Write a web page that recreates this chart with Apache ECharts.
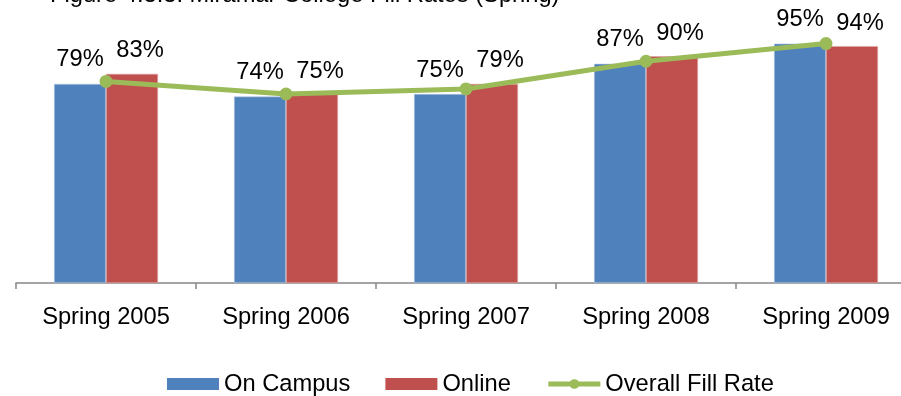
<!DOCTYPE html>
<html>
<head>
<meta charset="utf-8">
<script src="https://cdn.jsdelivr.net/npm/echarts@6/dist/echarts.min.js"></script>
<style>
  html, body { margin: 0; padding: 0; background: #fff; }
  #chart { width: 901px; height: 396px; }
</style>
</head>
<body>
<div id="chart"></div>
<script>
// Fill rates by spring term (percent)
const terms = ['Spring 2005', 'Spring 2006', 'Spring 2007', 'Spring 2008', 'Spring 2009'];
const onCampus = [79, 74, 75, 87, 95];
const online = [83, 75, 79, 90, 94];
const overallFillRate = [80, 75, 77, 88, 95];

const FONT = "'Liberation Sans', Arial, sans-serif";
const FS = 23.7;

const chart = echarts.init(document.getElementById('chart'), null, { renderer: 'canvas' });

chart.setOption({
  animation: false,
  backgroundColor: '#ffffff',
  textStyle: { fontFamily: FONT },
  title: {
    text: 'Figure 4.3.3: Miramar College Fill Rates (Spring)',
    left: 50,
    top: -17,
    padding: 0,
    textStyle: { fontFamily: FONT, fontSize: FS, fontWeight: 'normal', color: '#000' }
  },
  legend: {
    left: 167,
    top: 372,
    padding: 0,
    itemWidth: 52,
    itemHeight: 12,
    itemGap: 35,
    textStyle: { fontFamily: FONT, fontSize: FS, color: '#000' },
    data: [
      { name: 'On Campus', icon: 'rect', itemStyle: { borderWidth: 0 } },
      { name: 'Online', icon: 'rect', itemStyle: { borderWidth: 0 } },
      { name: 'Overall Fill Rate', lineStyle: { width: 5 }, itemStyle: { borderWidth: 0 } }
    ]
  },
  grid: {
    left: 16,
    right: -15,
    top: 31,
    bottom: 113,
    containLabel: false,
    outerBoundsMode: 'none'
  },
  xAxis: {
    type: 'category',
    data: terms,
    boundaryGap: true,
    axisLine: { show: true, lineStyle: { color: '#868686', width: 1.5 } },
    axisTick: { show: true, length: 6, alignWithLabel: false, lineStyle: { color: '#868686', width: 1.5 } },
    axisLabel: { fontFamily: FONT, fontSize: FS, color: '#000', margin: 22, interval: 0 },
    splitLine: { show: false }
  },
  yAxis: {
    type: 'value',
    min: 0,
    max: 100,
    show: false,
    splitLine: { show: false }
  },
  series: [
    {
      name: 'On Campus',
      type: 'bar',
      data: onCampus,
      barWidth: 52,
      barGap: '0%',
      itemStyle: { color: '#4F81BD', borderColor: '#b9cbe3', borderWidth: 0.6 },
      label: {
        show: true,
        position: 'top',
        distance: 12,
        formatter: '{c}%',
        fontFamily: FONT,
        fontSize: FS,
        color: '#000'
      },
      z: 2
    },
    {
      name: 'Online',
      type: 'bar',
      data: online,
      barWidth: 52,
      barGap: '0%',
      itemStyle: { color: '#C0504D', borderColor: '#e0a9a7', borderWidth: 0.6 },
      label: {
        show: true,
        position: 'top',
        distance: 11,
        offset: [8, 0],
        formatter: '{c}%',
        fontFamily: FONT,
        fontSize: FS,
        color: '#000'
      },
      z: 2
    },
    {
      name: 'Overall Fill Rate',
      type: 'line',
      data: overallFillRate,
      symbol: 'circle',
      symbolSize: 13,
      lineStyle: { color: '#9BBB59', width: 5 },
      itemStyle: { color: '#9BBB59' },
      label: { show: false },
      z: 5
    }
  ]
});
</script>
</body>
</html>
